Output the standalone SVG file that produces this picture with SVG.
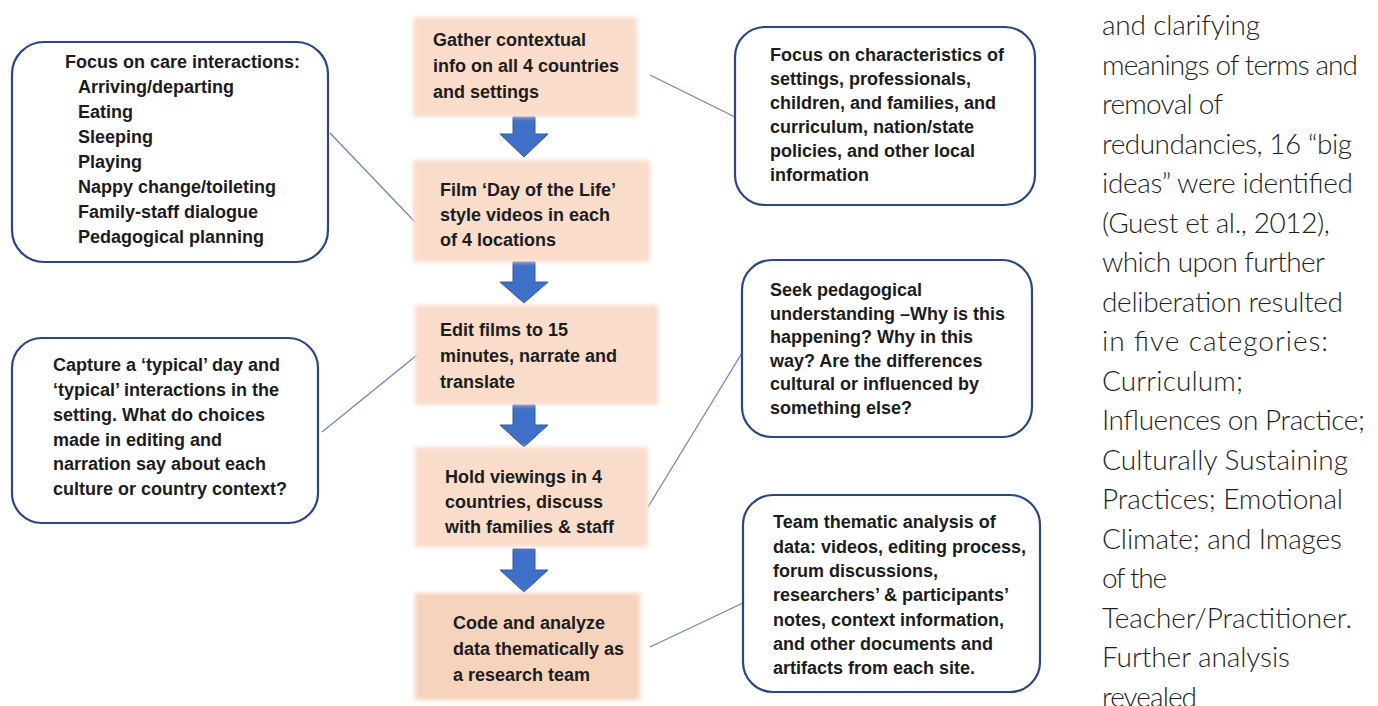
<svg xmlns="http://www.w3.org/2000/svg" width="1378" height="706" viewBox="0 0 1378 706">
<style>
.box{fill:#ffffff;stroke:#2c4589;stroke-width:2.2}
.step{fill:#f9dcca}
.step5{fill:#f5d3bd}
.b{font-family:'Liberation Sans',Arial,sans-serif;font-weight:bold;font-size:18px;fill:#1c1c1c}
.para{font-family:Lato,'Liberation Sans',sans-serif;font-weight:300;font-size:28px;fill:#1e1e1e}
.arrow{fill:#3f6fc6;stroke:#2f5aa8;stroke-width:1}
.conn line{stroke:#7384bd;stroke-width:1.3}
</style>
<defs>
<filter id="soft" x="-10%" y="-10%" width="120%" height="120%"><feGaussianBlur stdDeviation="2"/></filter>
</defs>
<rect x="0" y="0" width="1378" height="706" fill="#ffffff"/>

<g class="conn" id="connectors">
<line x1="330" y1="133" x2="415" y2="222"/>
<line x1="650" y1="75" x2="735" y2="117"/>
<line x1="322" y1="432" x2="417" y2="355"/>
<line x1="648" y1="507" x2="742" y2="353"/>
<line x1="650" y1="647" x2="743" y2="603"/>
</g>

<g id="arrows">
<path class="arrow" d="M513,117 H535 V134 H548 L524,157 L500,134 H513 Z"/>
<path class="arrow" d="M513,262 H535 V282 H548 L524,303 L500,282 H513 Z"/>
<path class="arrow" d="M513,405 H535 V425 H548 L524,447 L500,425 H513 Z"/>
<path class="arrow" d="M513,549 H535 V570 H548 L524,592 L500,570 H513 Z"/>
</g>

<g id="left1">
<rect class="box" x="12" y="42" width="316" height="220" rx="32"/>
<text class="b" x="65" y="68">Focus on care interactions:</text>
<text class="b" x="78" y="93">Arriving/departing</text>
<text class="b" x="78" y="118">Eating</text>
<text class="b" x="78" y="143">Sleeping</text>
<text class="b" x="78" y="168">Playing</text>
<text class="b" x="78" y="193">Nappy change/toileting</text>
<text class="b" x="78" y="218">Family-staff dialogue</text>
<text class="b" x="78" y="243">Pedagogical planning</text>
</g>

<g id="left2">
<rect class="box" x="12" y="338" width="306" height="185" rx="30"/>
<text class="b" x="53" y="371">Capture a ‘typical’ day and</text>
<text class="b" x="53" y="396">‘typical’ interactions in the</text>
<text class="b" x="53" y="421">setting. What do choices</text>
<text class="b" x="53" y="446">made in editing and</text>
<text class="b" x="53" y="470">narration say about each</text>
<text class="b" x="53" y="495">culture or country context?</text>
</g>

<g id="step1">
<rect class="step" x="413" y="17" width="224" height="100" filter="url(#soft)"/>
<text class="b" x="433" y="46">Gather contextual</text>
<text class="b" x="433" y="72">info on all 4 countries</text>
<text class="b" x="433" y="98">and settings</text>
</g>

<g id="step2">
<rect class="step" x="413" y="160" width="237" height="102" filter="url(#soft)"/>
<text class="b" x="440" y="196">Film ‘Day of the Life’</text>
<text class="b" x="440" y="221">style videos in each</text>
<text class="b" x="440" y="246">of 4 locations</text>
</g>

<g id="step3">
<rect class="step" x="415" y="305" width="243" height="100" filter="url(#soft)"/>
<text class="b" x="440" y="336">Edit films to 15</text>
<text class="b" x="440" y="362">minutes, narrate and</text>
<text class="b" x="440" y="388">translate</text>
</g>

<g id="step4">
<rect class="step" x="415" y="447" width="233" height="100" filter="url(#soft)"/>
<text class="b" x="445" y="483">Hold viewings in 4</text>
<text class="b" x="445" y="508">countries, discuss</text>
<text class="b" x="445" y="533">with families &amp; staff</text>
</g>

<g id="step5">
<rect class="step5" x="415" y="593" width="225" height="107" filter="url(#soft)"/>
<text class="b" x="453" y="629">Code and analyze</text>
<text class="b" x="453" y="655">data thematically as</text>
<text class="b" x="453" y="681">a research team</text>
</g>

<g id="right1">
<rect class="box" x="735" y="27" width="300" height="178" rx="30"/>
<text class="b" x="770" y="61">Focus on characteristics of</text>
<text class="b" x="770" y="85">settings, professionals,</text>
<text class="b" x="770" y="109">children, and families, and</text>
<text class="b" x="770" y="133">curriculum, nation/state</text>
<text class="b" x="770" y="157">policies, and other local</text>
<text class="b" x="770" y="181">information</text>
</g>

<g id="right2">
<rect class="box" x="742" y="260" width="290" height="177" rx="30"/>
<text class="b" x="770" y="296">Seek pedagogical</text>
<text class="b" x="770" y="320">understanding –Why is this</text>
<text class="b" x="770" y="343">happening? Why in this</text>
<text class="b" x="770" y="367">way? Are the differences</text>
<text class="b" x="770" y="390">cultural or influenced by</text>
<text class="b" x="770" y="414">something else?</text>
</g>

<g id="right3">
<rect class="box" x="743" y="495" width="297" height="197" rx="30"/>
<text class="b" x="773" y="528">Team thematic analysis of</text>
<text class="b" x="773" y="553">data: videos, editing process,</text>
<text class="b" x="773" y="577">forum discussions,</text>
<text class="b" x="773" y="601">researchers’ &amp; participants’</text>
<text class="b" x="773" y="626">notes, context information,</text>
<text class="b" x="773" y="650">and other documents and</text>
<text class="b" x="773" y="674">artifacts from each site.</text>
</g>

<g id="paragraph">
<text class="para" x="1102" y="35" textLength="158">and clarifying</text>
<text class="para" x="1102" y="74.5" textLength="256">meanings of terms and</text>
<text class="para" x="1102" y="114" textLength="121">removal of</text>
<text class="para" x="1102" y="153.5" textLength="250">redundancies, 16 “big</text>
<text class="para" x="1102" y="193" textLength="251">ideas” were identified</text>
<text class="para" x="1102" y="232.5" textLength="228">(Guest et al., 2012),</text>
<text class="para" x="1102" y="272" textLength="223">which upon further</text>
<text class="para" x="1102" y="311.5" textLength="241">deliberation resulted</text>
<text class="para" x="1102" y="351" textLength="226">in five categories:</text>
<text class="para" x="1102" y="390.5" textLength="141">Curriculum;</text>
<text class="para" x="1102" y="430" textLength="263">Influences on Practice;</text>
<text class="para" x="1102" y="469.5" textLength="246">Culturally Sustaining</text>
<text class="para" x="1102" y="509" textLength="241">Practices; Emotional</text>
<text class="para" x="1102" y="548.5" textLength="240">Climate; and Images</text>
<text class="para" x="1102" y="588" textLength="65">of the</text>
<text class="para" x="1102" y="627.5" textLength="250">Teacher/Practitioner.</text>
<text class="para" x="1102" y="667" textLength="188">Further analysis</text>
<text class="para" x="1102" y="706.5" textLength="95">revealed</text>
</g>
</svg>
